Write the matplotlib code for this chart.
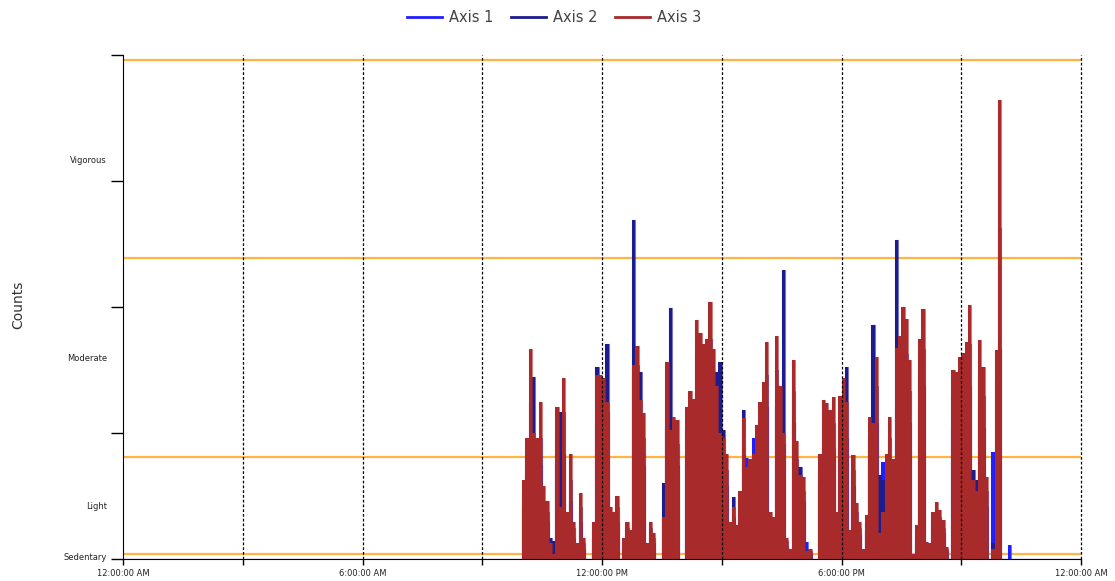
import numpy as np
import matplotlib
matplotlib.use("Agg")
import matplotlib.pyplot as plt
from matplotlib.lines import Line2D

# Activity counts per 5-minute epoch, starting at 10:00 AM
epoch_minutes = 5
active_start_hour = 10.0

axis3_counts = [
    1500, 2300, 4000, 2400, 2300, 3000, 1400, 1100, 300, 100,
    2900, 1000, 3440, 900, 2000, 700, 300, 1250, 400, 0,
    0, 700, 3500, 3500, 3450, 3000, 1000, 900, 1200, 0,
    400, 700, 550, 3700, 4060, 3030, 2790, 300, 700, 500,
    0, 0, 800, 3760, 2460, 2700, 2650, 0, 0, 2900,
    3200, 3050, 4550, 4300, 4100, 4200, 4900, 4000, 3300, 2400,
    2300, 2000, 700, 1000, 650, 1300, 2680, 1750, 1900, 2000,
    2550, 3000, 3380, 4140, 900, 800, 4250, 3300, 2400, 400,
    200, 3800, 2250, 1600, 1570, 150, 200, 0, 0, 2000,
    3030, 2965, 2840, 3090, 900, 3100, 3440, 3000, 550, 1980,
    1060, 710, 200, 840, 2710, 2600, 3840, 500, 900, 2000,
    2710, 1900, 4010, 4240, 4800, 4570, 3790, 100, 650, 4200,
    4760, 330, 300, 900, 1080, 930, 740, 230, 0, 3600,
    3570, 3850, 3920, 4140, 4840, 1500, 1300, 4170, 3660, 1570,
    0, 200, 3980, 8745, 0, 0, 0,
]

axis2_counts = [
    1300, 2000, 3000, 3470, 2100, 2300, 900, 900, 400, 350,
    2300, 2800, 2800, 800, 1500, 600, 250, 1000, 300, 0,
    0, 550, 3650, 3200, 3400, 4090, 800, 750, 1000, 0,
    300, 600, 450, 6460, 3700, 3570, 2300, 250, 600, 400,
    0, 0, 1440, 3030, 4775, 2300, 2200, 0, 0, 2500,
    2700, 2600, 3900, 3700, 3500, 3600, 4200, 3400, 3570, 3760,
    2460, 1700, 600, 1190, 650, 1100, 2840, 1500, 1600, 1700,
    2200, 2600, 2900, 3500, 750, 700, 3600, 3300, 5505, 350,
    150, 3200, 1900, 1760, 1300, 120, 150, 0, 0, 1700,
    2600, 2500, 2400, 2600, 750, 2600, 2900, 3660, 450, 1700,
    900, 600, 150, 700, 2300, 4460, 3300, 1600, 1500, 1700,
    2300, 1600, 6077, 3600, 4100, 3900, 3200, 80, 550, 3600,
    4000, 280, 250, 750, 900, 800, 600, 200, 0, 3100,
    3000, 3300, 3300, 3500, 4100, 1700, 1500, 3500, 3100, 1300,
    0, 300, 3400, 6300, 0, 0, 0,
]

axis1_counts = [
    1000, 1600, 2400, 2200, 1700, 1800, 800, 700, 250, 100,
    1800, 1500, 2000, 600, 1100, 400, 200, 700, 200, 0,
    0, 400, 2600, 2500, 2600, 2800, 600, 500, 700, 0,
    200, 400, 300, 3500, 3000, 2400, 1800, 200, 400, 300,
    0, 0, 900, 2500, 2300, 1900, 1800, 0, 0, 2000,
    2200, 2100, 3100, 2900, 2800, 2900, 3300, 2700, 2500, 2200,
    1700, 1400, 500, 800, 450, 900, 2000, 1920, 1300, 2300,
    1900, 2100, 2300, 2900, 600, 550, 2900, 2400, 2200, 250,
    100, 2600, 1500, 1300, 1100, 330, 100, 0, 0, 1400,
    2100, 2000, 1900, 2100, 600, 2100, 2400, 2300, 350, 1400,
    700, 450, 100, 550, 1900, 2200, 2600, 400, 1850, 1400,
    1900, 1300, 2900, 2900, 3300, 3100, 2600, 60, 400, 2900,
    3300, 200, 200, 600, 700, 600, 500, 150, 0, 2500,
    2400, 2600, 2700, 2800, 3300, 1200, 1000, 2900, 2500, 1000,
    0, 2045, 2045, 4000, 0, 0, 270,
]

series_names = ["Axis 1", "Axis 2", "Axis 3"]
series_colors = ["#1f1fff", "#1c1c8e", "#a82a2a"]

# Freedson cut points and the intensity bands between them
cut_points = [100, 1952, 5724, 9499]
band_names = ["Sedentary", "Light", "Moderate", "Vigorous"]
band_bounds = [0, 100, 1952, 5724, 9499]

hour_ticks = [0, 3, 6, 9, 12, 15, 18, 21, 24]
hour_labels = ["12:00:00 AM", "", "6:00:00 AM", "", "12:00:00 PM", "",
               "6:00:00 PM", "", "12:00:00 AM"]

y_max = 9600
y_ticks = [0, 2400, 4800, 7200, 9600]

# full day of epochs, zero outside the worn period
n_epochs = 24 * 60 // epoch_minutes
edges = np.arange(n_epochs + 1) * epoch_minutes / 60.0
offset = int(active_start_hour * 60 / epoch_minutes)


def full_day(values):
    day = np.zeros(n_epochs)
    day[offset:offset + len(values)] = values
    return day


fig = plt.figure(figsize=(11.15, 5.81), dpi=100)
ax = fig.add_axes([123 / 1115, 1 - 559 / 581, (1081 - 123) / 1115, (559 - 55) / 581])

for y in cut_points:
    ax.axhline(y, color="#ffb443", lw=1.6, zorder=1)

for vals, name, col in zip([axis1_counts, axis2_counts, axis3_counts],
                           series_names, series_colors):
    day = full_day(vals)
    ax.stairs(day, edges, fill=True, color=col, lw=0, zorder=2)
    ax.stairs(day, edges, color=col, lw=0.8, alpha=0.6, zorder=2)

for h in hour_ticks[1:]:
    ax.axvline(h, color="black", lw=0.9, ls=(0, (2.2, 1.6)), zorder=3,
               clip_on=False)

ax.set_xlim(0, 24)
ax.set_ylim(0, y_max)

ax.set_xticks(hour_ticks)
ax.set_xticklabels(hour_labels, fontsize=6, color="#222222")
ax.tick_params(axis="x", direction="out", length=4.5, width=1, pad=3)

ax.set_yticks(y_ticks)
ax.set_yticklabels([])
ax.tick_params(axis="y", which="major", direction="out", length=9, width=1)
mids = [(band_bounds[i] + band_bounds[i + 1]) / 2 for i in range(4)]
ax.set_yticks(mids, minor=True)
ax.set_yticklabels(band_names, minor=True, fontsize=6, color="#222222")
ax.tick_params(axis="y", which="minor", length=0, pad=11.5)

for side in ["top", "right"]:
    ax.spines[side].set_visible(False)
ax.spines["left"].set_zorder(4)
ax.spines["bottom"].set_zorder(4)

fig.text(18 / 1115, 1 - 305 / 581, "Counts", rotation=90, fontsize=10,
         color="#333333", ha="center", va="center")

handles = [Line2D([], [], color=c, lw=2) for c in series_colors]
fig.legend(handles, series_names, loc="center", bbox_to_anchor=(0.497, 1 - 18 / 581),
           ncol=3, frameon=False, fontsize=10.5, handlelength=2.4,
           handletextpad=0.5, columnspacing=1.2, labelcolor="#444444")

fig.savefig("out.png", dpi=100)
